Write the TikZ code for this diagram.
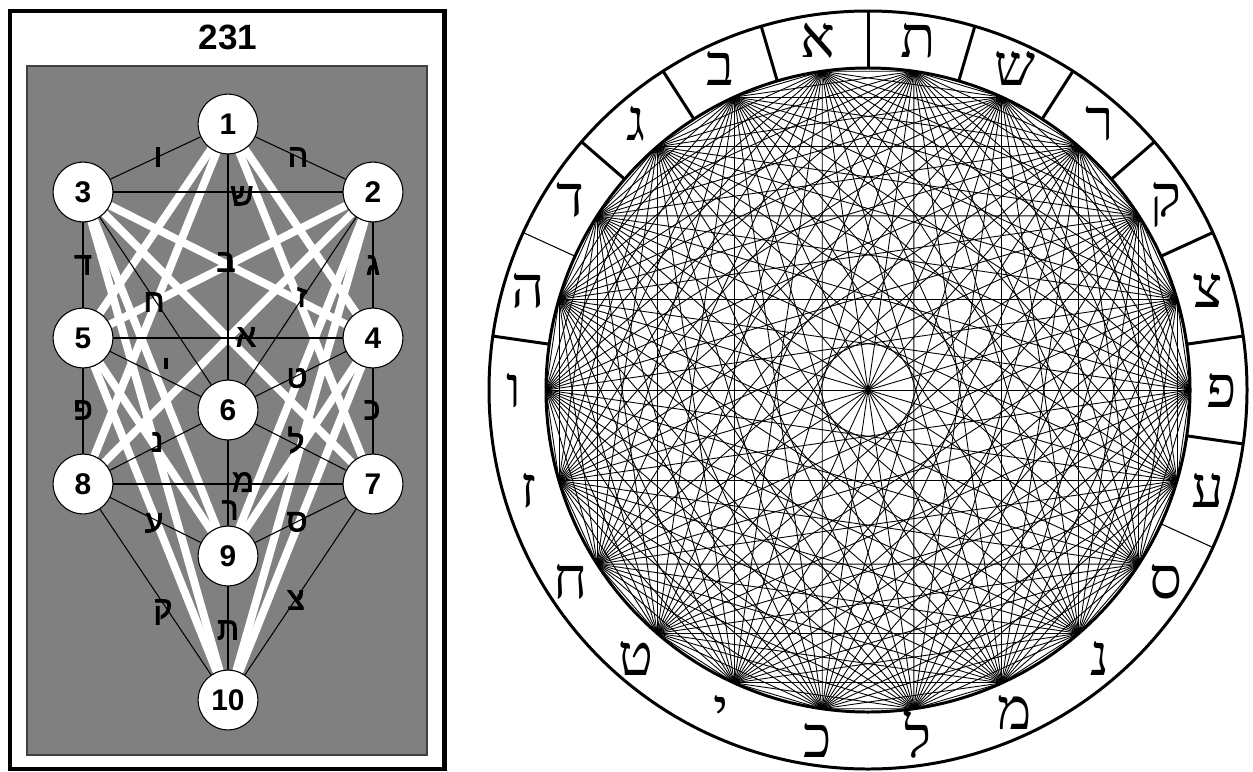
\documentclass[tikz,border=0pt]{standalone}
\usepackage{fontspec}
\setmainfont{Liberation Sans}
\newfontfamily\hebsans[Script=Hebrew, FakeBold=2.5]{Liberation Sans}
\newfontfamily\hebserif[Script=Hebrew]{Liberation Serif}
\TeXXeTstate=1
\pgfdeclarelayer{panel}
\pgfdeclarelayer{paths}
\pgfsetlayers{panel,paths,main}

\begin{document}
\begin{tikzpicture}[x=0.02cm, y=-0.02cm,
  sefira/.style={circle, draw=black, fill=white, line width=0.6pt, minimum size=34pt, inner sep=0pt, font=\fontsize{17}{17}\selectfont\bfseries},
  gatelabel/.style={inner sep=0pt, font=\hebsans\fontsize{18}{18}\selectfont},
  blackpath/.style={black, line width=0.6pt},
  whitepath/.style={white, line width=4.5pt},
  chord/.style={black, line width=0.5pt},
  ringline/.style={black, line width=1.7pt},
  ringletter/.style={inner sep=0pt, anchor=base, yshift=-10pt, font=\hebserif\fontsize{33}{33}\selectfont}]

  \useasboundingbox (0,0) rectangle (1253,771);

  % Left panel: frame and title
  \draw[line width=2.8pt] (10,11) rectangle (444.5,769);
  \node[font=\fontsize{20}{20}\selectfont\bfseries] (title) at (228,37) {231};
  \begin{pgfonlayer}{panel}
    \fill[white] (0,0) rectangle (1253,771);
    \draw[fill=black!50, draw=black!75, line width=0.6pt] (27,66) rectangle (427,755);
  \end{pgfonlayer}

  % Sefirot
  \foreach \n/\px/\py in {1/228/124, 2/373/192, 3/83/192, 4/373/338, 5/83/338,
                          6/228/410, 7/373/484, 8/83/484, 9/228/556, 10/228/700}
    \node[sefira] (n\n) at (\px,\py) {\n};

  % White gates and the 22 black paths
  \begin{pgfonlayer}{paths}
    \foreach \a/\b in {1/4, 1/5, 1/7, 1/8, 2/5, 2/8, 2/9, 2/10, 3/4, 3/7, 3/9, 3/10,
                       4/9, 4/10, 5/9, 5/10}
      \draw[whitepath] (n\a) -- (n\b);
    \foreach \a/\b in {1/2, 1/3, 1/6, 2/3, 2/4, 2/6, 3/5, 3/6, 4/5, 4/6, 4/7,
                       5/6, 5/8, 6/7, 6/8, 6/9, 7/8, 7/9, 7/10, 8/9, 8/10, 9/10}
      \draw[blackpath] (n\a) -- (n\b);
  \end{pgfonlayer}

  % Letters on the paths
  \foreach \lx/\ly/\ch [count=\k] in {158/157/ו, 298/157/ה, 242/196/ש, 83/265/ד,
      373/265/ג, 226/262/ב, 154/302/ח, 302/297/ז, 246/337/א, 166/368/י,
      297/378/ט, 83/410/פ, 372/410/כ, 157/442/נ, 296/440/ל, 243/482/מ,
      230/510/ר, 154/523/ע, 297/522/ס, 163/612/ק, 228/630/ת, 296/600/צ}
    \node[gatelabel] (g\k) at (\lx,\ly) {\ch};

  % Right panel: 22 points on the circle, every pair joined
  \begin{scope}[shift={(868,390)}, yscale=-1]
    \foreach \m in {0,...,21} {
      \coordinate (p\m) at ({\m*360/22}:322);
      \coordinate (l\m) at ({\m*360/22}:354);
    }
    \foreach \i in {0,...,20} {
      \pgfmathtruncatemacro{\inext}{\i+1}
      \foreach \j in {\inext,...,21}
        \draw[chord] (p\i) -- (p\j);
    }

    % Ring
    \draw[ringline] (0,0) circle[radius=322];
    \draw[ringline] (0,0) circle[radius=379];
    \foreach \m in {0,...,8,10,...,19,21}
      \draw[ringline] ({(\m+0.5)*360/22}:322) -- ({(\m+0.5)*360/22}:379);
    \foreach \m in {9,20}
      \draw[blackpath] ({(\m+0.5)*360/22}:322) -- ({(\m+0.5)*360/22}:379);
  \end{scope}

  % Letters of the ring
  \foreach \ch [count=\m from 0] in {פ,צ,ק,ר,ש,ת,א,ב,ג,ד,ה,ו,ז,ח,ט,י,כ,ל,מ,נ,ס,ע}
    \node[ringletter] (r\m) at (l\m) {\ch};

\end{tikzpicture}
\end{document}
